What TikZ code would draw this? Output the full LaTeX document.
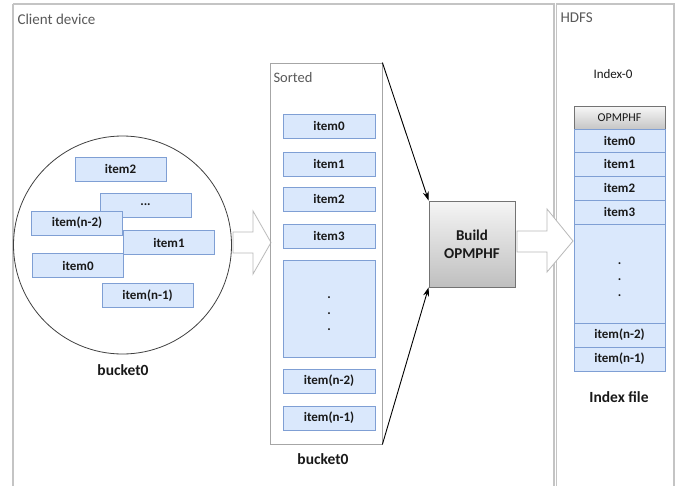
\documentclass[tikz,border=0pt]{standalone}
\usepackage{fontspec}
\setmainfont{Carlito}
\usetikzlibrary{arrows.meta}
\definecolor{itemfill}{HTML}{DAE8FC}
\definecolor{itemdraw}{HTML}{7F9FD4}
\definecolor{framegray}{HTML}{C4C4C4}
\definecolor{labelgray}{HTML}{595959}
\tikzset{
  itembox/.style={draw=itemdraw, fill=itemfill, line width=0.9pt, inner sep=0pt,
    minimum width=91pt, minimum height=24pt, font=\fontsize{13}{15}\selectfont\bfseries, text=black!90},
  dottext/.style={anchor=base, inner sep=0pt, font=\fontsize{13}{15}\selectfont\bfseries, text=black!90},
  framebox/.style={draw=framegray, line width=1.1pt},
  blockarrow/.style={draw=gray!55, fill=white, line width=0.8pt},
  conn/.style={draw=black, line width=0.9pt, -{Stealth[length=9pt,width=6pt]}},
  biglabel/.style={font=\fontsize{15.5}{18}\selectfont\bfseries, text=black!90},
  framelabel/.style={font=\fontsize{15}{17}\selectfont, text=labelgray, anchor=west}
}
\begin{document}
\begin{tikzpicture}[x=1pt,y=-1pt]
\useasboundingbox (0,0) rectangle (680,485);
\fill[white] (0,0) rectangle (680,485);
% frames
\draw[framebox] (13,4) -- (13,490);
\draw[framebox] (13,4) -- (554,4) -- (554,490);
\draw[framebox] (556.5,490) -- (556.5,4) -- (674,4) -- (674,490);
\node[framelabel] (clientlbl) at (14,19) {Client device};
\node[framelabel] (hdfslbl) at (557,18) {HDFS};

% bucket circle
\node[draw=black!75, line width=0.8pt, circle, minimum size=218pt, inner sep=0pt] (bucket) at (122.5,245) {};
\node[itembox] (c2) at (120.5,169) {item2};
\node[itembox] (cd) at (145.5,205) {...};
\node[itembox] (cn2) at (77,223) {item(n-2)};
\node[itembox] (c1) at (169,242.5) {item1};
\node[itembox] (c0) at (78,265.5) {item0};
\node[itembox] (cn1) at (147.5,295.5) {item(n-1)};
\node[biglabel] (blbl1) at (123,370) {bucket0};

% block arrow 1
\draw[blockarrow] (233,232) -- (253,232) -- (253,211) -- (271,242.5) -- (253,274) -- (253,253) -- (233,253) -- cycle;

% sorted box
\node[draw=gray!70, line width=0.8pt, minimum width=112pt, minimum height=381pt, inner sep=0pt] (sorted) at (326,253.5) {};
\node[framelabel, font=\fontsize{14.5}{16}\selectfont] (sortedlbl) at (270,78) {Sorted};
\node[itembox, minimum width=92pt] (s0) at (329,126) {item0};
\node[itembox, minimum width=92pt] (s1) at (329,164) {item1};
\node[itembox, minimum width=92pt] (s2) at (329,199) {item2};
\node[itembox, minimum width=92pt] (s3) at (329,236) {item3};
\node[itembox, minimum width=92pt, minimum height=97pt] (sd) at (329,308.5) {};
\node[dottext] (sd1) at (329,298.5) {.};
\node[dottext] (sd2) at (329,314.5) {.};
\node[dottext] (sd3) at (329,330) {.};
\node[itembox, minimum width=92pt] (sn2) at (329,381) {item(n-2)};
\node[itembox, minimum width=92pt] (sn1) at (329,418) {item(n-1)};
\node[biglabel] (blbl2) at (323,459) {bucket0};

% build box
\node[draw=black!55, line width=0.8pt, top color=gray!8, bottom color=gray!50,
  minimum width=86pt, minimum height=86pt, inner sep=0pt, align=center,
  font=\fontsize{15}{18}\selectfont\bfseries, text=black!90] (build) at (472,244) {Build\\OPMPHF};
\draw[conn] (sorted.north east) -- (build.north west);
\draw[conn] (sorted.south east) -- (build.south west);

% block arrow 2
\draw[blockarrow] (517,231) -- (547,231) -- (547,209) -- (573,241) -- (547,272) -- (547,252) -- (517,252) -- cycle;

% index file
\node[font=\fontsize{13}{15}\selectfont, text=black!90] (idx0) at (613,74) {Index-0};
\node[draw=black!55, line width=0.8pt, top color=gray!6, bottom color=gray!45, minimum width=91pt, minimum height=23pt, inner sep=0pt,
  font=\fontsize{12}{14}\selectfont, text=black!90] (hopm) at (619.5,117.5) {OPMPHF};
\node[itembox, minimum height=23pt] (i0) at (619.5,140.5) {item0};
\node[itembox] (i1) at (619.5,164) {item1};
\node[itembox] (i2) at (619.5,188) {item2};
\node[itembox] (i3) at (619.5,212) {item3};
\node[itembox, minimum height=99pt] (id) at (619.5,273.5) {};
\node[dottext] (id1) at (619.5,264.5) {.};
\node[dottext] (id2) at (619.5,280.5) {.};
\node[dottext] (id3) at (619.5,296) {.};
\node[itembox] (in2) at (619.5,335) {item(n-2)};
\node[itembox] (in1) at (619.5,359) {item(n-1)};
\node[biglabel] (idxlbl) at (619,397) {Index file};
\end{tikzpicture}
\end{document}
